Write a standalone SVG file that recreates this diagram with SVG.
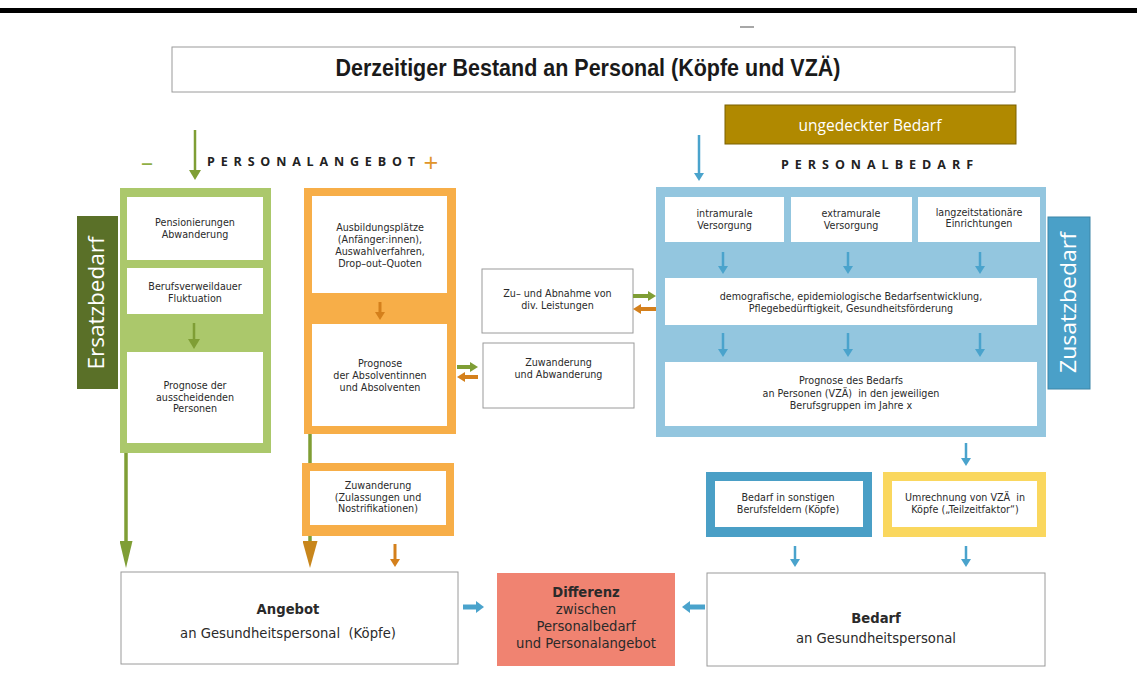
<svg xmlns="http://www.w3.org/2000/svg" width="1137" height="675" viewBox="0 0 1137 675">
<style>
.box{fill:#fff;stroke:#9a9a9a;stroke-width:1}
.in{fill:#fff}
.t{font-family:"DejaVu Sans","Open Sans",sans-serif;fill:#2a2a2a;text-anchor:middle}
.s{font-size:9.6px}
.m{font-size:13.2px}
.b{font-weight:bold}
.w{fill:#fff}
.cap{font-family:"Open Sans","Liberation Sans",sans-serif;font-weight:bold;font-size:12.5px;fill:#222}
.gl{stroke:#7f9e35;fill:none}
.bl{stroke:#4aa3cc;fill:none}
.ol{stroke:#d4801c;fill:none}
</style>
<defs>
<marker id="hb" markerUnits="userSpaceOnUse" viewBox="0 0 10 10" preserveAspectRatio="none" markerWidth="8" markerHeight="10" refX="0" refY="5" orient="auto"><path d="M0,0L10,5L0,10z" fill="#4aa3cc"/></marker>
<marker id="hbb" markerUnits="userSpaceOnUse" viewBox="0 0 10 10" preserveAspectRatio="none" markerWidth="8" markerHeight="12" refX="0" refY="5" orient="auto"><path d="M0,0L10,5L0,10z" fill="#4aa3cc"/></marker>
<marker id="hg" markerUnits="userSpaceOnUse" viewBox="0 0 10 10" preserveAspectRatio="none" markerWidth="10" markerHeight="12" refX="0" refY="5" orient="auto"><path d="M0,0L10,5L0,10z" fill="#7f9e35"/></marker>
<marker id="hgs" markerUnits="userSpaceOnUse" viewBox="0 0 10 10" preserveAspectRatio="none" markerWidth="8" markerHeight="10" refX="0" refY="5" orient="auto"><path d="M0,0L10,5L0,10z" fill="#7f9e35"/></marker>
<marker id="ho" markerUnits="userSpaceOnUse" viewBox="0 0 10 10" preserveAspectRatio="none" markerWidth="8" markerHeight="10" refX="0" refY="5" orient="auto"><path d="M0,0L10,5L0,10z" fill="#d4801c"/></marker>
<marker id="hgl" markerUnits="userSpaceOnUse" viewBox="0 0 10 10" preserveAspectRatio="none" markerWidth="27" markerHeight="13" refX="0" refY="5" orient="auto"><path d="M0,0L10,5L0,10z" fill="#7f9e35"/></marker>
<marker id="hol" markerUnits="userSpaceOnUse" viewBox="0 0 10 10" preserveAspectRatio="none" markerWidth="27" markerHeight="15" refX="0" refY="5" orient="auto"><path d="M0,0L10,5L0,10z" fill="#c8861c"/></marker>
</defs>
<rect width="1137" height="675" fill="#fff"/>
<rect x="0" y="8" width="1137" height="5" fill="#000"/>
<line x1="740" y1="27" x2="754" y2="27" stroke="#8a8a8a" stroke-width="1.5"/>

<g id="title">
<rect class="box" x="172" y="47" width="843" height="45"/>
<text class="t" x="588" y="76" font-size="23" font-weight="bold" textLength="505" lengthAdjust="spacingAndGlyphs" style="font-family:'Liberation Sans Narrow','Liberation Sans',sans-serif;fill:#1a1a1a">Derzeitiger Bestand an Personal (Köpfe und VZÄ)</text>
</g>

<g id="ungedeckter">
<rect x="725" y="105" width="291" height="39" fill="#b08900" stroke="#7a6000" stroke-width="1"/>
<text class="t w" x="870" y="131" font-size="15.5" style="font-family:'Open Sans',sans-serif">ungedeckter Bedarf</text>
</g>

<g id="labels">
<text class="cap" x="207" y="166" textLength="208" lengthAdjust="spacing">PERSONALANGEBOT</text>
<text class="cap" x="781" y="168.5" textLength="192" lengthAdjust="spacing">PERSONALBEDARF</text>
<text class="t" x="147" y="171" font-size="24" style="fill:#8fae45;font-family:'Open Sans',sans-serif">–</text>
<text class="t" x="431" y="172" font-size="26" style="fill:#e0952a;font-family:'Open Sans',sans-serif">+</text>
</g>

<g id="ersatzbedarf">
<rect x="77" y="216" width="41" height="173" fill="#5a7028"/>
<text class="t w" transform="translate(104,303) rotate(-90)" font-size="21" textLength="133" lengthAdjust="spacingAndGlyphs" style="font-family:'Open Sans',sans-serif">Ersatzbedarf</text>
</g>

<g id="abgang">
<rect x="120" y="188" width="151" height="265" fill="#abc86b"/>
<rect class="in" x="127" y="197" width="136" height="63"/>
<text class="t s" x="195" y="225.5">Pensionierungen</text>
<text class="t s" x="195" y="237.8">Abwanderung</text>
<rect class="in" x="127" y="268" width="136" height="46"/>
<text class="t s" x="195" y="290">Berufsverweildauer</text>
<text class="t s" x="195" y="302">Fluktuation</text>
<rect class="in" x="127" y="352" width="136" height="91"/>
<text class="t s" x="195" y="389">Prognose der</text>
<text class="t s" x="195" y="400.7">ausscheidenden</text>
<text class="t s" x="195" y="412.3">Personen</text>
</g>

<g id="ausbildung">
<rect x="304" y="188" width="152" height="246" fill="#f7ae48"/>
<rect class="in" x="312" y="196" width="135" height="97"/>
<text class="t s" x="380" y="230.5">Ausbildungsplätze</text>
<text class="t s" x="380" y="242.5">(Anfänger:innen),</text>
<text class="t s" x="380" y="254.5">Auswahlverfahren,</text>
<text class="t s" x="380" y="266.5">Drop–out–Quoten</text>
<rect class="in" x="312" y="324" width="135" height="102"/>
<text class="t s" x="380" y="367">Prognose</text>
<text class="t s" x="380" y="379">der Absolventinnen</text>
<text class="t s" x="380" y="391">und Absolventen</text>
</g>

<g id="zuwanderung-zul">
<rect x="302" y="463" width="152" height="73" fill="#f7ae48"/>
<rect class="in" x="310" y="471" width="136" height="54"/>
<text class="t s" x="378" y="489">Zuwanderung</text>
<text class="t s" x="378" y="500.7">(Zulassungen und</text>
<text class="t s" x="378" y="512.3">Nostrifikationen)</text>
</g>

<g id="zuabnahme">
<rect class="box" x="482" y="269" width="151" height="64"/>
<text class="t s" x="557.5" y="297">Zu– und Abnahme von</text>
<text class="t s" x="557.5" y="309">div. Leistungen</text>
</g>

<g id="zuabwanderung">
<rect class="box" x="483" y="343" width="151" height="65"/>
<text class="t s" x="558.5" y="365.5">Zuwanderung</text>
<text class="t s" x="558.5" y="377.5">und Abwanderung</text>
</g>

<g id="bedarfsrahmen">
<rect x="656" y="187" width="390" height="250" fill="#93c6df"/>
<rect class="in" x="665" y="197" width="119" height="45"/>
<text class="t s" x="724.5" y="217">intramurale</text>
<text class="t s" x="724.5" y="229">Versorgung</text>
<rect class="in" x="791" y="197" width="121" height="45"/>
<text class="t s" x="851" y="217">extramurale</text>
<text class="t s" x="851" y="229">Versorgung</text>
<rect class="in" x="918" y="197" width="122" height="45"/>
<text class="t s" x="979" y="215.5">langzeitstationäre</text>
<text class="t s" x="979" y="227.3">Einrichtungen</text>
<rect class="in" x="665" y="278" width="372" height="47"/>
<text class="t s" x="851" y="300">demografische, epidemiologische Bedarfsentwicklung,</text>
<text class="t s" x="851" y="311.7">Pflegebedürftigkeit, Gesundheitsförderung</text>
<rect class="in" x="665" y="362" width="372" height="64"/>
<text class="t s" x="851" y="384">Prognose des Bedarfs</text>
<text class="t s" x="851" y="396.5" xml:space="preserve">an Personen (VZÄ)  in den jeweiligen</text>
<text class="t s" x="851" y="409">Berufsgruppen im Jahre x</text>
</g>

<g id="zusatzbedarf">
<rect x="1048" y="217" width="42" height="172" fill="#4aa0c8" stroke="#3d86a8" stroke-width="1"/>
<text class="t w" transform="translate(1076,302.5) rotate(-90)" font-size="21" textLength="141" lengthAdjust="spacingAndGlyphs" style="font-family:'Open Sans',sans-serif">Zusatzbedarf</text>
</g>

<g id="sonstige">
<rect x="706" y="472" width="166" height="65" fill="#4a9fc6"/>
<rect class="in" x="715" y="481" width="148" height="46"/>
<text class="t s" x="788" y="500.5">Bedarf in sonstigen</text>
<text class="t s" x="788" y="513">Berufsfeldern (Köpfe)</text>
</g>

<g id="umrechnung">
<rect x="883" y="472" width="163" height="65" fill="#fad75e"/>
<rect class="in" x="892" y="481" width="145" height="46"/>
<text class="t s" x="965" y="500.5" xml:space="preserve">Umrechnung von VZÄ  in</text>
<text class="t s" x="965" y="513">Köpfe („Teilzeitfaktor“)</text>
</g>

<g id="angebot">
<rect class="box" x="121" y="572" width="337" height="92"/>
<text class="t m b" x="288" y="614">Angebot</text>
<text class="t m" x="288" y="638" xml:space="preserve">an Gesundheitspersonal  (Köpfe)</text>
</g>

<g id="differenz">
<rect x="497" y="573" width="178" height="93" fill="#f08371"/>
<text class="t m b" x="586" y="596.5">Differenz</text>
<text class="t m" x="586" y="613.5">zwischen</text>
<text class="t m" x="586" y="631">Personalbedarf</text>
<text class="t m" x="586" y="648">und Personalangebot</text>
</g>

<g id="bedarf">
<rect class="box" x="707" y="573" width="338" height="93"/>
<text class="t m b" x="876" y="623">Bedarf</text>
<text class="t m" x="876" y="643">an Gesundheitspersonal</text>
</g>

<g id="connectors">
<line class="gl" x1="195" y1="130" x2="195" y2="170" stroke-width="2.5" marker-end="url(#hg)"/>
<line class="gl" x1="194" y1="323" x2="194" y2="339" stroke-width="2.5" marker-end="url(#hg)"/>
<line class="ol" x1="380" y1="302" x2="380" y2="312" stroke-width="3" marker-end="url(#ho)"/>
<line class="gl" x1="126" y1="453" x2="126" y2="541" stroke-width="3.5" marker-end="url(#hgl)"/>
<line class="gl" x1="310" y1="434" x2="310" y2="463" stroke-width="3.5"/>
<line class="gl" x1="310" y1="536" x2="310" y2="541" stroke-width="3.5" marker-end="url(#hol)"/>
<line class="ol" x1="395" y1="544" x2="395" y2="559" stroke-width="3" marker-end="url(#ho)"/>
<line class="gl" x1="457" y1="367" x2="470" y2="367" stroke-width="4" marker-end="url(#hgs)"/>
<line class="ol" x1="478" y1="377" x2="465" y2="377" stroke-width="4" marker-end="url(#ho)"/>
<line class="gl" x1="633" y1="296" x2="648" y2="296" stroke-width="4" marker-end="url(#hgs)"/>
<line class="ol" x1="656" y1="309" x2="641" y2="309" stroke-width="4" marker-end="url(#ho)"/>
<line class="bl" x1="699" y1="135" x2="699" y2="173" stroke-width="2.5" marker-end="url(#hb)"/>
<line class="bl" x1="723" y1="252" x2="723" y2="266" stroke-width="2.5" marker-end="url(#hb)"/>
<line class="bl" x1="848" y1="252" x2="848" y2="266" stroke-width="2.5" marker-end="url(#hb)"/>
<line class="bl" x1="980" y1="252" x2="980" y2="266" stroke-width="2.5" marker-end="url(#hb)"/>
<line class="bl" x1="723" y1="333" x2="723" y2="349" stroke-width="2.5" marker-end="url(#hb)"/>
<line class="bl" x1="848" y1="333" x2="848" y2="349" stroke-width="2.5" marker-end="url(#hb)"/>
<line class="bl" x1="980" y1="333" x2="980" y2="349" stroke-width="2.5" marker-end="url(#hb)"/>
<line class="bl" x1="966" y1="443" x2="966" y2="458" stroke-width="2.5" marker-end="url(#hb)"/>
<line class="bl" x1="795" y1="546" x2="795" y2="559" stroke-width="2.5" marker-end="url(#hb)"/>
<line class="bl" x1="966" y1="546" x2="966" y2="559" stroke-width="2.5" marker-end="url(#hb)"/>
<line class="bl" x1="463" y1="607" x2="476" y2="607" stroke-width="5" marker-end="url(#hbb)"/>
<line class="bl" x1="705" y1="607" x2="690" y2="607" stroke-width="5" marker-end="url(#hbb)"/>
</g>
</svg>
